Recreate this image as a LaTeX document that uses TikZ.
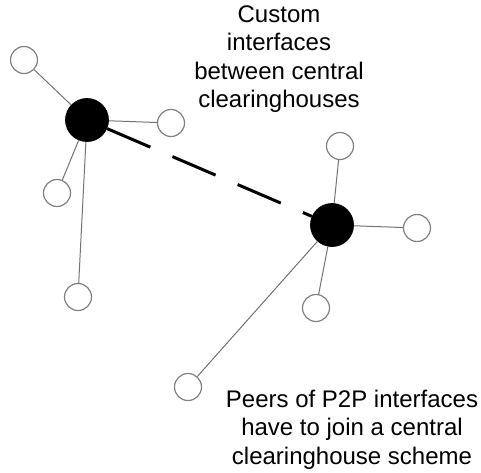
\documentclass[tikz,border=0pt]{standalone}
\usepackage{fontspec}
\setmainfont{Liberation Sans}
\begin{document}
\begin{tikzpicture}[x=1pt,y=-1pt,
  hub/.style={circle,fill=black,draw=black,line width=0.8pt,minimum size=43pt,inner sep=0pt},
  peer/.style={circle,fill=white,draw=black!50,line width=1.2pt,minimum size=27pt,inner sep=0pt},
  spoke/.style={draw=black!55,line width=1pt},
  link/.style={draw=black,line width=3pt,dash pattern=on 47pt off 24pt},
  caption/.style={align=center,inner sep=0pt,font=\fontsize{24}{28.5}\selectfont}]
  \useasboundingbox (0,0) rectangle (481,472);

  % first clearinghouse and its peers
  \node[hub] (A) at (87,120) {};
  \node[peer] (a1) at (24,60) {};
  \node[peer] (a2) at (171,123) {};
  \node[peer] (a3) at (57,193) {};
  \node[peer] (a4) at (78,297) {};

  % second clearinghouse and its peers
  \node[hub] (B) at (332,225) {};
  \node[peer] (b1) at (340,146) {};
  \node[peer] (b2) at (417,228) {};
  \node[peer] (b3) at (316,308) {};
  \node[peer] (b4) at (188,387) {};

  \foreach \p in {a1,a2,a3,a4} \draw[spoke] (A) -- (\p);
  \foreach \p in {b1,b2,b3,b4} \draw[spoke] (B) -- (\p);

  % custom interface between the clearinghouses
  \draw[link] (A) -- (B);

  \node[caption,anchor=north] (t1) at (279,5.5)
    {Custom\\interfaces\\between central\\clearinghouses};
  \node[caption,anchor=north] (t2) at (352,389.5)
    {Peers of P2P interfaces\\have to join a central\\clearinghouse scheme};
\end{tikzpicture}
\end{document}
